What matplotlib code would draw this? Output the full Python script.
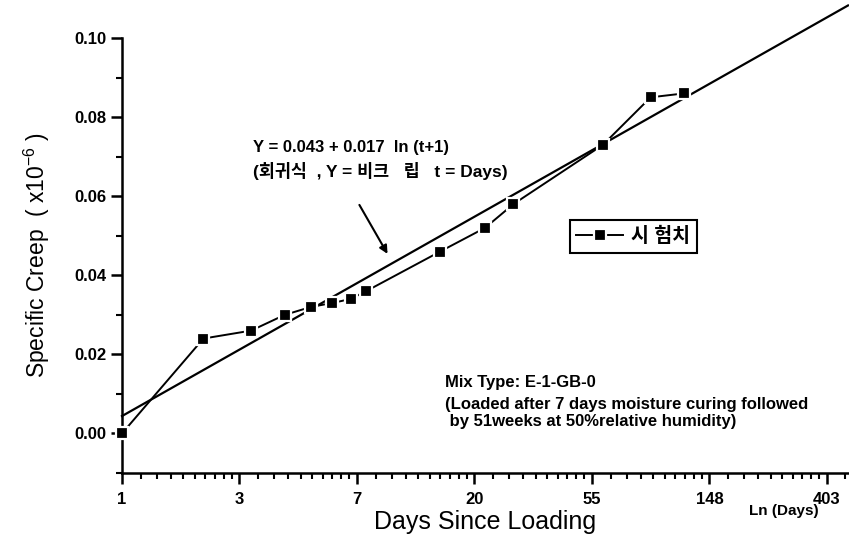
import numpy as np
import matplotlib
matplotlib.use("Agg")
import matplotlib.pyplot as plt
from matplotlib.lines import Line2D

plt.rcParams['font.family'] = ['Liberation Sans', 'Noto Sans CJK KR', 'DejaVu Sans']
plt.rcParams['mathtext.fontset'] = 'custom'
plt.rcParams['mathtext.rm'] = 'Liberation Sans'

# measured specific creep (x10^-6) vs days since loading
days = [1, 2, 3, 4, 5, 6, 7, 8, 15, 22, 28, 60, 90, 120]
creep = [0.000, 0.024, 0.026, 0.030, 0.032, 0.033, 0.034, 0.036,
         0.046, 0.052, 0.058, 0.073, 0.085, 0.086]

# regression line as drawn: Y = a + b * ln(t)
fit_intercept = 0.0044
fit_slope = 0.0168

tick_labels = ['1', '3', '7', '20', '55', '148', '403']
y_ticks = [0.00, 0.02, 0.04, 0.06, 0.08, 0.10]

xmax = 6.18
x = np.log(days)

fig = plt.figure(figsize=(8.49, 5.47), dpi=100)
ax = fig.add_axes([122 / 849, 1 - 473 / 547, (848 - 122) / 849, (473 - 38) / 547])

# fit line (runs past the top of the axes like the original)
xf = np.array([0, xmax])
ax.plot(xf, fit_intercept + fit_slope * xf, color='black', lw=1.6, clip_on=False)

# test values, white marker edge gives the gap between line and marker
ax.plot(x, creep, color='black', lw=1.4, marker='s', markersize=8.5,
        markerfacecolor='black', markeredgecolor='white', markeredgewidth=1.6,
        clip_on=False, zorder=3)

ax.set_xlim(0, xmax)
ax.set_ylim(-0.01, 0.10)

for s in ['top', 'right']:
    ax.spines[s].set_visible(False)
for s in ['left', 'bottom']:
    ax.spines[s].set_linewidth(1.8)

ax.set_xticks(range(len(tick_labels)))
ax.set_xticklabels(tick_labels)
minor_x = []
for n in range(7):
    for k in range(1, 10):
        v = n + np.log(1 + k * (np.e - 1) / 10)
        if v < xmax:
            minor_x.append(v)
ax.set_xticks(minor_x, minor=True)

ax.set_yticks(y_ticks)
ax.set_yticklabels(['%.2f' % v for v in y_ticks])
ax.set_yticks([-0.01, 0.01, 0.03, 0.05, 0.07, 0.09], minor=True)

ax.tick_params(which='major', direction='out', length=8, width=1.8,
               labelsize=12)
ax.tick_params(which='minor', direction='out', length=4.5, width=1.5)
for lab in ax.get_xticklabels() + ax.get_yticklabels():
    lab.set_fontweight('bold')
ax.tick_params(axis='x', pad=6)

ax.set_xlabel('Days Since Loading', fontsize=18, labelpad=2)
ax.set_ylabel('Specific Creep  ( x10$^{-6}$ )', fontsize=16.5, labelpad=16)

ax.text(5.63, -0.0195, 'Ln (Days)', fontsize=11, fontweight='bold',
        ha='center', va='center')

ax.text(1.115, 0.0723, 'Y = 0.043 + 0.017  ln (t+1)', fontsize=12,
        fontweight='bold', va='center')
ax.text(1.115, 0.0663, '(회귀식  , Y = 비크   립   t = Days)', fontsize=12.5,
        fontweight='bold', va='center')
ax.annotate('', xy=(2.272, 0.0448), xytext=(2.009, 0.0584),
            arrowprops=dict(arrowstyle='-|>', color='black', lw=1.5,
                            mutation_scale=12))

ax.text(2.75, 0.0130, 'Mix Type: E-1-GB-0', fontsize=12, fontweight='bold',
        va='center')
ax.text(2.75, 0.0074, '(Loaded after 7 days moisture curing followed',
        fontsize=12, fontweight='bold', va='center')
ax.text(2.75, 0.0029, ' by 51weeks at 50%relative humidity)', fontsize=12,
        fontweight='bold', va='center')

handle = Line2D([], [], color='black', lw=1.4, marker='s', markersize=8,
                markerfacecolor='black', markeredgecolor='white',
                markeredgewidth=1.6)
leg = ax.legend([handle], ['시 험치'], loc='center',
                bbox_to_anchor=(0.704, 0.5437), fancybox=False,
                edgecolor='black', framealpha=1, handlelength=2.4,
                handletextpad=0.4, prop={'size': 14, 'weight': 'bold'},
                borderpad=0.35)
leg.get_frame().set_linewidth(1.5)

fig.savefig('out.png', dpi=100)
